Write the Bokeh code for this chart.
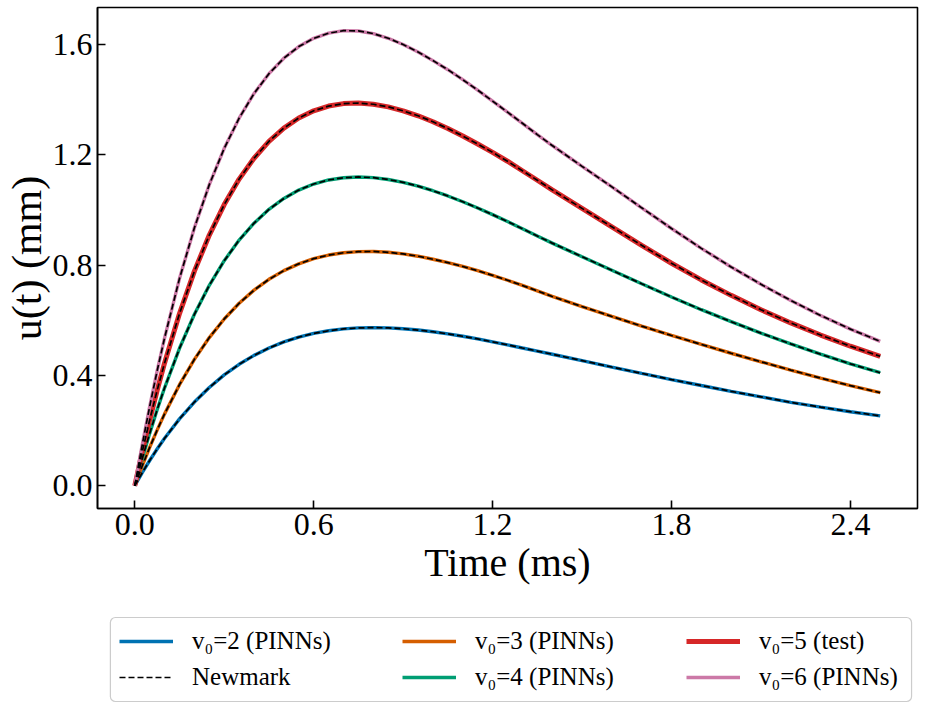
from bokeh.plotting import figure
from bokeh.layouts import column
from bokeh.models import (Legend, LegendItem, FixedTicker, Range1d, PrintfTickFormatter,
                          BoxAnnotation)
from bokeh.embed import file_html
from bokeh.resources import INLINE

# time (ms)
t = [0.0, 0.025, 0.05, 0.075, 0.1, 0.15, 0.2, 0.25, 0.3, 0.35, 0.4, 0.45, 0.5, 0.55,
     0.6, 0.65, 0.7, 0.75, 0.8, 0.85, 0.9, 0.95, 1.0, 1.05, 1.1, 1.15, 1.2, 1.25, 1.3,
     1.35, 1.4, 1.5, 1.6, 1.7, 1.8, 1.9, 2.0, 2.1, 2.2, 2.3, 2.4, 2.5]

# displacement u(t) (mm)
u_v2 = [0.0, 0.0472, 0.0915, 0.1331, 0.1720, 0.2424, 0.3036, 0.3565, 0.4019, 0.4404,
        0.4728, 0.4997, 0.5216, 0.5390, 0.5524, 0.5622, 0.5688, 0.5725, 0.5735, 0.5726,
        0.5695, 0.5647, 0.5584, 0.5508, 0.5421, 0.5324, 0.5218, 0.511, 0.4995, 0.4885,
        0.477, 0.454, 0.4305, 0.4075, 0.385, 0.3635, 0.3425, 0.3225, 0.3025, 0.2850,
        0.2685, 0.2535]
u_v3 = [0.0, 0.0717, 0.1389, 0.2018, 0.2606, 0.3666, 0.4584, 0.5374, 0.6049, 0.6619,
        0.7095, 0.7486, 0.7802, 0.8048, 0.8236, 0.8367, 0.8451, 0.8493, 0.8497, 0.8467,
        0.8408, 0.8325, 0.8215, 0.8094, 0.7953, 0.7798, 0.7632, 0.7453, 0.7265, 0.7065,
        0.6865, 0.650, 0.614, 0.579, 0.545, 0.5125, 0.4805, 0.4495, 0.4195, 0.3905,
        0.363, 0.3375]
u_v4 = [0.0, 0.0981, 0.1899, 0.2755, 0.3552, 0.4985, 0.6218, 0.7271, 0.8162, 0.8909,
        0.9524, 1.0024, 1.0419, 1.0723, 1.0943, 1.1090, 1.1172, 1.1199, 1.1174, 1.1108,
        1.1003, 1.0865, 1.0700, 1.0510, 1.0300, 1.0074, 0.9834, 0.9583, 0.9323, 0.9058,
        0.880, 0.8305, 0.7815, 0.7325, 0.6845, 0.6385, 0.595, 0.5535, 0.5145, 0.477,
        0.442, 0.410]
u_v5 = [0.0, 0.1232, 0.2383, 0.3456, 0.4454, 0.6245, 0.7783, 0.9093, 1.0198, 1.1122,
        1.1879, 1.2491, 1.2972, 1.3337, 1.3599, 1.3770, 1.3860, 1.3880, 1.3837, 1.3742,
        1.3598, 1.3418, 1.3201, 1.2956, 1.2685, 1.2396, 1.2091, 1.177, 1.1425, 1.108,
        1.073, 1.006, 0.939, 0.872, 0.807, 0.7465, 0.6905, 0.6385, 0.5905, 0.5465,
        0.506, 0.4695]
u_v6 = [0.0, 0.1486, 0.2872, 0.4164, 0.5364, 0.7514, 0.9355, 1.0921, 1.2237, 1.3332,
        1.4227, 1.4946, 1.5507, 1.5928, 1.6227, 1.6415, 1.6506, 1.6495, 1.640, 1.623,
        1.6005, 1.5735, 1.542, 1.509, 1.4727, 1.4351, 1.395, 1.355, 1.3146, 1.2737,
        1.234, 1.1585, 1.084, 1.008, 0.933, 0.861, 0.7935, 0.7305, 0.672, 0.6175,
        0.568, 0.5235]

series_labels = ["v\u2080=2 (PINNs)", "v\u2080=3 (PINNs)", "v\u2080=4 (PINNs)",
                 "v\u2080=5 (test)", "v\u2080=6 (PINNs)"]
newmark_label = "Newmark"
series_colors = ["#0072B2", "#D55E00", "#009E73", "#D62728", "#CC79A7"]
series_widths = [3.4, 3.4, 3.4, 5, 3.4]

x_ticks = [0.0, 0.6, 1.2, 1.8, 2.4]
y_ticks = [0.0, 0.4, 0.8, 1.2, 1.6]

SERIF = "Liberation Serif"
DASH = "6 3"

# layout sizes (px)
FRAME_W, FRAME_H = 827, 501
LEFT, RIGHT, TOP, BOTTOM = 90, 3, 7, 96
LEG_H = 99

p = figure(width=LEFT + FRAME_W + RIGHT, height=TOP + FRAME_H + BOTTOM,
           x_range=Range1d(-0.125, 2.625), y_range=Range1d(-0.0826, 1.7346),
           output_backend="svg", toolbar_location=None,
           min_border_left=LEFT, min_border_right=RIGHT, min_border_top=TOP,
           min_border_bottom=BOTTOM)

p.grid.visible = False
p.outline_line_color = "black"
p.outline_line_width = 1.6
p.outline_line_alpha = 1.0
p.background_fill_color = "white"
p.border_fill_color = "white"

for ax in (p.xaxis, p.yaxis):
    ax.axis_line_color = "black"
    ax.axis_line_width = 1.6
    ax.major_tick_in = 8
    ax.major_tick_out = 0
    ax.major_tick_line_width = 1.6
    ax.major_tick_line_color = "black"
    ax.minor_tick_line_color = None
    ax.major_label_text_font = SERIF
    ax.major_label_text_font_size = "32px"
    ax.major_label_text_color = "black"
    ax.axis_label_text_font = SERIF
    ax.axis_label_text_font_style = "normal"
    ax.axis_label_text_color = "black"
    ax.formatter = PrintfTickFormatter(format="%.1f")

p.xaxis.ticker = FixedTicker(ticks=x_ticks)
p.yaxis.ticker = FixedTicker(ticks=y_ticks)
p.xaxis.axis_label = "Time (ms)"
p.yaxis.axis_label = "u(t) (mm)"
p.xaxis.axis_label_text_font_size = "40px"
p.yaxis.axis_label_text_font_size = "42px"
p.xaxis.major_label_standoff = 5
p.yaxis.major_label_standoff = 5
p.xaxis.axis_label_standoff = 2
p.yaxis.axis_label_standoff = 0

all_u = [u_v2, u_v3, u_v4, u_v5, u_v6]
for u, c, w in zip(all_u, series_colors, series_widths):
    p.line(t, u, line_color=c, line_width=w)
for u in all_u:
    p.line(t, u, line_color="black", line_width=1.7, line_dash=DASH)

# legend panel below the chart (its frame is aligned with the chart frame)
pl = figure(width=LEFT + FRAME_W + RIGHT, height=LEG_H,
            x_range=Range1d(0, FRAME_W), y_range=Range1d(0, LEG_H),
            output_backend="svg", toolbar_location=None,
            x_axis_location=None, y_axis_location=None, min_border=0)
pl.grid.visible = False
pl.outline_line_color = None
pl.background_fill_color = "white"
pl.border_fill_color = "white"

# legend box (in pixels of the legend panel)
pl.add_layout(BoxAnnotation(left=13, right=821, bottom=2, top=86,
                            fill_color=None, line_color="#555555", line_width=1.2,
                            border_radius=5))

nan = float("nan")
leg_pinn = [pl.line([nan], [nan], line_color=c, line_width=w)
            for c, w in zip(series_colors, series_widths)]
leg_newmark = pl.line([nan], [nan], line_color="black", line_width=1.7, line_dash=DASH)

columns_items = [
    [(series_labels[0], leg_pinn[0]), (newmark_label, leg_newmark)],
    [(series_labels[1], leg_pinn[1]), (series_labels[2], leg_pinn[2])],
    [(series_labels[3], leg_pinn[3]), (series_labels[4], leg_pinn[4])],
]
col_x = [22, 305, 589]
for cx, its in zip(col_x, columns_items):
    leg = Legend(items=[LegendItem(label=lab, renderers=[r]) for lab, r in its],
                 orientation="vertical", location=(cx, 12),
                 glyph_width=54, glyph_height=20, label_standoff=19,
                 spacing=8, padding=0, margin=0,
                 border_line_color=None, background_fill_alpha=0,
                 label_text_font=SERIF, label_text_font_size="25px",
                 label_text_color="black")
    pl.add_layout(leg)

layout = column(p, pl, spacing=0)
open("out.html", "w").write(file_html(layout, INLINE))
